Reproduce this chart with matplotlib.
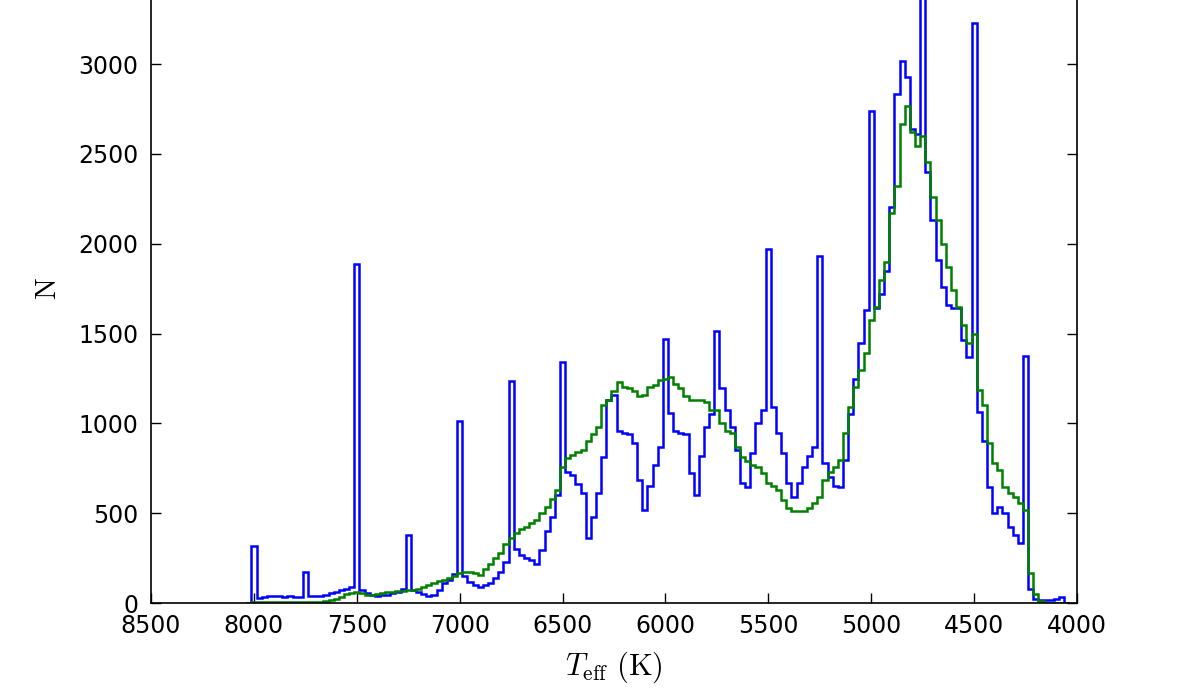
import numpy as np
import matplotlib.pyplot as plt

plt.rcParams['mathtext.fontset'] = 'cm'

# Teff bin centres (K), from hot to cool, 25 K wide bins
t_hot = 8025
t_cool = 4050
bin_width = 25
t_centres = np.arange(t_hot, t_cool - 1, -bin_width)

# blue histogram (spikes at round Teff values)
n_blue = [
    0, 318, 28, 35, 40, 40, 38, 35, 38, 36,               # 8025 - 7800
    35, 173, 40, 38, 40, 45, 55, 63, 70, 78,              # 7775 - 7550
    88, 1890, 75, 55, 45, 39, 42, 45, 55, 63,             # 7525 - 7300
    80, 379, 75, 63, 50, 41, 45, 70, 110, 128,            # 7275 - 7050
    160, 1015, 150, 119, 100, 91, 100, 111, 140, 175,     # 7025 - 6800
    230, 1237, 300, 268, 250, 240, 215, 295, 400, 481,    # 6775 - 6550
    600, 1343, 732, 713, 660, 613, 362, 481, 613, 815,    # 6525 - 6300
    1130, 1160, 960, 947, 940, 892, 686, 520, 650, 770,   # 6275 - 6050
    870, 1471, 1059, 960, 947, 940, 724, 600, 820, 981,   # 6025 - 5800
    1050, 1516, 1198, 1076, 981, 853, 669, 647, 836, 1003,  # 5775 - 5550
    1076, 1973, 1093, 947, 836, 669, 591, 669, 760, 820,  # 5525 - 5300
    870, 1934, 780, 702, 650, 647, 797, 1050, 1250, 1450,  # 5275 - 5050
    1630, 2742, 1640, 1720, 1850, 2207, 2832, 3016, 2926, 2637,  # 5025 - 4800
    2609, 3700, 2397, 2135, 1912, 1760, 1661, 1644, 1644, 1466,  # 4775 - 4550
    1371, 3227, 1065, 900, 647, 500, 535, 500, 424, 380,  # 4525 - 4300
    334, 1377, 80, 25, 15, 15, 15, 20, 33, 0,             # 4275 - 4050
]

# green histogram
n_green = [
    0, 3, 3, 3, 3, 3, 3, 3, 3, 5,                         # 8025 - 7800
    5, 5, 5, 5, 5, 10, 17, 25, 35, 50,                    # 7775 - 7550
    56, 63, 55, 45, 45, 50, 55, 60, 63, 65,               # 7525 - 7300
    68, 72, 75, 80, 90, 100, 110, 120, 130, 139,          # 7275 - 7050
    150, 167, 172, 175, 165, 156, 190, 215, 250, 280,     # 7025 - 6800
    330, 360, 390, 410, 425, 445, 463, 500, 537, 580,     # 6775 - 6550
    630, 760, 810, 825, 840, 853, 900, 940, 981, 1100,    # 6525 - 6300
    1130, 1180, 1232, 1204, 1198, 1180, 1154, 1160, 1200, 1215,  # 6275 - 6050
    1243, 1245, 1260, 1220, 1198, 1150, 1132, 1132, 1132, 1120,  # 6025 - 5800
    1076, 1076, 1003, 960, 947, 870, 814, 790, 770, 758,  # 5775 - 5550
    724, 669, 650, 630, 574, 530, 515, 510, 515, 530,     # 5525 - 5300
    557, 591, 686, 730, 760, 797, 947, 1093, 1200, 1300,  # 5275 - 5050
    1393, 1577, 1650, 1800, 1900, 2170, 2320, 2665, 2765, 2620,  # 5025 - 4800
    2543, 2598, 2453, 2263, 2135, 2000, 1873, 1745, 1650, 1550,  # 4775 - 4550
    1450, 1500, 1187, 1100, 892, 780, 740, 647, 613, 591,  # 4525 - 4300
    557, 518, 167, 50, 10, 0, 0, 0, 0, 0,                 # 4275 - 4050
]

edges = np.sort(np.append(t_centres + bin_width / 2, t_centres[-1] - bin_width / 2))

fig = plt.figure(figsize=(11.96, 6.92), dpi=100)
# top of the axes lies above the figure (the original is cropped there)
ax = fig.add_axes([0.1263, 0.1286, 0.7742, 0.9084])

ax.hist(t_centres, bins=edges, weights=n_blue, histtype='step', color='b', linewidth=1.8)
ax.hist(t_centres, bins=edges, weights=n_green, histtype='step', color='g', linewidth=1.8)

ax.set_xlim(8500, 4000)
ax.set_ylim(0, 3500)
ax.set_xticks(np.arange(8500, 3999, -500))
ax.set_yticks(np.arange(0, 3001, 500))

ax.tick_params(direction='in', length=7, width=1.0, labelsize=17, top=True, right=True)
ax.tick_params(axis='x', pad=8)
ax.tick_params(axis='y', pad=9)
for s in ax.spines.values():
    s.set_linewidth(1.2)

ax.set_xlabel(r'$T_{\rm eff}\ \mathrm{(K)}$', fontsize=22, labelpad=8)
ax.set_ylabel(r'$\mathrm{N}$', fontsize=21, labelpad=12)

fig.savefig('out.png', dpi=100)
